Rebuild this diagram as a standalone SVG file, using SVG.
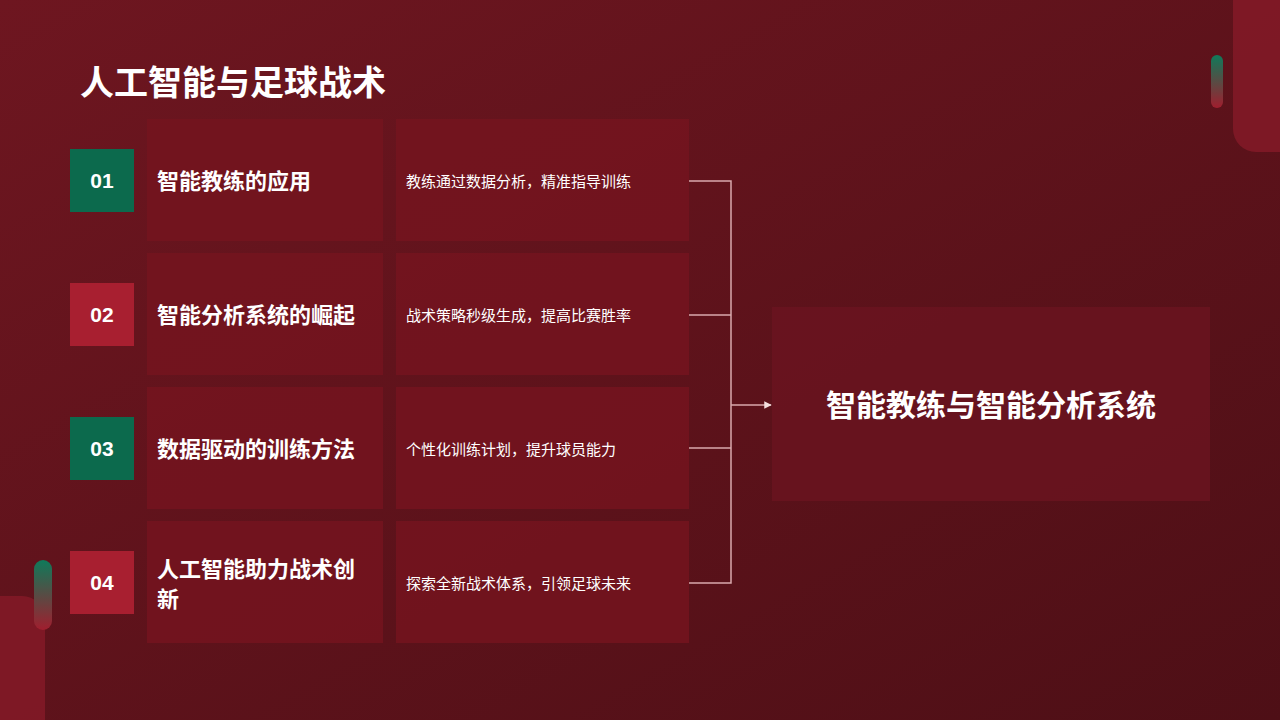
<svg xmlns="http://www.w3.org/2000/svg" width="1280" height="720" viewBox="0 0 1280 720">
<defs>
<linearGradient id="bg" x1="0" y1="0" x2="1" y2="1"><stop offset="0" stop-color="#6e1620"/><stop offset="1" stop-color="#4e0f16"/></linearGradient>
<linearGradient id="pill" x1="0" y1="0" x2="0" y2="1"><stop offset="0" stop-color="#0f7a5a"/><stop offset="1" stop-color="#a01e2e"/></linearGradient>
<marker id="arr" viewBox="0 0 10 10" refX="9" refY="5" markerWidth="5" markerHeight="5" orient="auto"><path d="M0,0L10,5L0,10z" fill="#f4dede"/></marker>
<style>
.box{fill:#74141f;opacity:0.85}
.t{font-family:"Noto Sans CJK SC","Liberation Sans",sans-serif;fill:#fff}
.h{font-size:22px;font-weight:bold}
.d{font-size:15px}
.n{font-family:"Liberation Sans",sans-serif;font-size:21px;font-weight:bold;fill:#fff}
.g{fill:#0c6a4d}.r{fill:#a81f30}
.c{stroke:#d9a9ad;stroke-width:1.5;fill:none}
</style>
</defs>
<rect width="1280" height="720" fill="url(#bg)"/>
<path d="M1233,0H1280V152H1256A23,23 0 0 1 1233,129Z" fill="#861a28" opacity="0.8"/>
<rect x="1211" y="55" width="12" height="53" rx="6" fill="url(#pill)"/>
<path d="M0,596H22A23,23 0 0 1 45,619V720H0Z" fill="#861a28" opacity="0.8"/>
<rect x="34" y="560" width="18" height="70" rx="9" fill="url(#pill)"/>
<text x="80" y="95" class="t" font-size="34" font-weight="bold">人工智能与足球战术</text>
<g id="row1"><rect class="box" x="147" y="119" width="236" height="122"/><rect class="box" x="396" y="119" width="293" height="122"/><rect class="g" x="70" y="149" width="64" height="63"/><text class="n" x="102" y="188" text-anchor="middle">01</text><text class="t h" x="157" y="189">智能教练的应用</text><text class="t d" x="406" y="187">教练通过数据分析，精准指导训练</text></g>
<g id="row2"><rect class="box" x="147" y="253" width="236" height="122"/><rect class="box" x="396" y="253" width="293" height="122"/><rect class="r" x="70" y="283" width="64" height="63"/><text class="n" x="102" y="322" text-anchor="middle">02</text><text class="t h" x="157" y="323">智能分析系统的崛起</text><text class="t d" x="406" y="321">战术策略秒级生成，提高比赛胜率</text></g>
<g id="row3"><rect class="box" x="147" y="387" width="236" height="122"/><rect class="box" x="396" y="387" width="293" height="122"/><rect class="g" x="70" y="417" width="64" height="63"/><text class="n" x="102" y="456" text-anchor="middle">03</text><text class="t h" x="157" y="457">数据驱动的训练方法</text><text class="t d" x="406" y="455">个性化训练计划，提升球员能力</text></g>
<g id="row4"><rect class="box" x="147" y="521" width="236" height="122"/><rect class="box" x="396" y="521" width="293" height="122"/><rect class="r" x="70" y="551" width="64" height="63"/><text class="n" x="102" y="590" text-anchor="middle">04</text><text class="t h" x="157" y="577">人工智能助力战术创</text><text class="t h" x="157" y="607">新</text><text class="t d" x="406" y="589">探索全新战术体系，引领足球未来</text></g>
<g id="target"><rect x="772" y="307" width="438" height="194" fill="#6a1420" opacity="0.85"/><text class="t" x="991" y="416" text-anchor="middle" font-size="30" font-weight="bold">智能教练与智能分析系统</text></g>
<g id="connectors"><path class="c" d="M689,181H731V583H689M689,315H731M689,448H731"/><path class="c" d="M731,405H771" stroke="#f4dede" marker-end="url(#arr)"/></g>
</svg>
